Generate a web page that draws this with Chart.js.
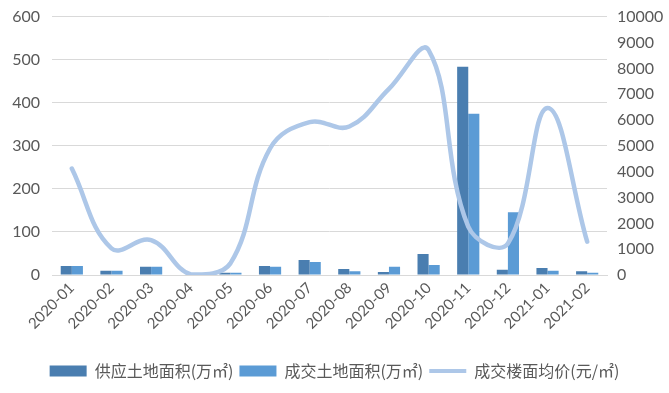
<!DOCTYPE html>
<html><head><meta charset="utf-8">
<script src="https://cdn.jsdelivr.net/npm/chart.js@4/dist/chart.umd.min.js"></script>
<style>html,body{margin:0;padding:0;background:#fff}#wrap{width:669px;height:393px}</style>
</head><body><div id="wrap"><canvas id="c" width="669" height="393"></canvas></div>
<script>
const categories = ['2020-01','2020-02','2020-03','2020-04','2020-05','2020-06','2020-07','2020-08','2020-09','2020-10','2020-11','2020-12','2021-01','2021-02'];
const supplyArea = [21, 10, 19, 0, 5, 21, 35, 14, 7, 49, 484, 12, 16, 9];
const dealArea = [21, 10, 19, 0, 5, 19, 30, 9, 19, 23, 375, 146, 10, 5];
const dealPrice = [4120, 1030, 1350, 20, 450, 4900, 5920, 5750, 7210, 8710, 1870, 1220, 6470, 1290];
const leftTicks = [0, 100, 200, 300, 400, 500, 600];
const rightTicks = [0,1000,2000,3000,4000,5000,6000,7000,8000,9000,10000];
const seriesNames = ['供应土地面积(万㎡)', '成交土地面积(万㎡)', '成交楼面均价(元/㎡)'];

const C1 = '#4a7eb0', C2 = '#5b9bd5', C3 = '#adc7e8';
const txt = '#595959';
const numFont = 'Lato, "Liberation Sans", sans-serif';
Chart.defaults.font.family = '"Noto Sans CJK SC", "Liberation Sans", sans-serif';
Chart.defaults.color = txt;

new Chart(document.getElementById('c'), {
  data: {
    labels: categories,
    datasets: [
      { type: 'bar', label: seriesNames[0], data: supplyArea, backgroundColor: C1, yAxisID: 'y', order: 2, barPercentage: 1, categoryPercentage: 0.56 },
      { type: 'bar', label: seriesNames[1], data: dealArea, backgroundColor: C2, yAxisID: 'y', order: 3, barPercentage: 1, categoryPercentage: 0.56 },
      { type: 'line', label: seriesNames[2], data: dealPrice, borderColor: C3, backgroundColor: C3, borderWidth: 4.5, pointRadius: 0, tension: 0.4, yAxisID: 'y1', order: 1, borderCapStyle: 'round' }
    ]
  },
  options: {
    responsive: false,
    animation: false,
    layout: { padding: { top: 16, right: 0, left: 0, bottom: 4 } },
    plugins: {
      tooltip: { enabled: false },
      legend: {
        position: 'bottom',
        labels: {
          usePointStyle: true,
          boxHeight: 11,
          pointStyleWidth: 37,
          padding: 6,
          font: { size: 16 },
          color: txt,
          generateLabels: (chart) => chart.data.datasets.map((ds, i) => ({
            text: ds.label,
            fillStyle: ds.backgroundColor,
            strokeStyle: ds.type === 'line' ? ds.borderColor : ds.backgroundColor,
            lineWidth: ds.type === 'line' ? 4 : 0,
            pointStyle: ds.type === 'line' ? 'line' : 'rect',
            fontColor: txt,
            datasetIndex: i,
            hidden: false
          }))
        }
      }
    },
    scales: {
      x: {
        grid: { display: false, drawTicks: false },
        border: { display: true, color: '#d9d9d9' },
        ticks: { maxRotation: 45, minRotation: 45, font: { size: 15, family: numFont }, color: txt, padding: 4 },
        afterFit: s => { s.height = 82; }
      },
      y: {
        position: 'left', min: 0, max: 600,
        afterBuildTicks: s => { s.ticks = leftTicks.map(v => ({ value: v })); },
        grid: { color: '#d9d9d9', drawTicks: false, lineWidth: 1 },
        border: { display: false },
        ticks: { font: { size: 16, family: numFont, lineHeight: 0.6 }, color: txt, padding: 12, callback: v => String(v) },
        afterFit: s => { s.width = 52; }
      },
      y1: {
        position: 'right', min: 0, max: 10000,
        afterBuildTicks: s => { s.ticks = rightTicks.map(v => ({ value: v })); },
        grid: { display: false, drawTicks: false },
        border: { display: false },
        ticks: { font: { size: 16, family: numFont, lineHeight: 0.6 }, color: txt, padding: 10, callback: v => String(v) },
        afterFit: s => { s.width = 62; }
      }
    }
  }
});
</script></body></html>
